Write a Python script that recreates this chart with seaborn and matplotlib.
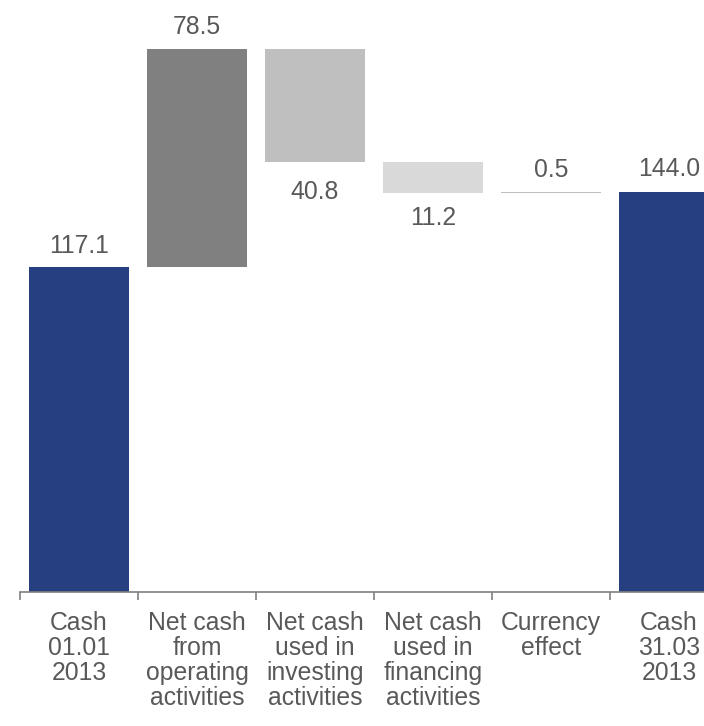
import seaborn as sns; sns.set_style("white")
import matplotlib.pyplot as plt
import pandas as pd
import numpy as np

plt.rcParams['font.family'] = ['Liberation Sans', 'DejaVu Sans']

categories = ['Cash\n01.01\n2013', 'Net cash\nfrom\noperating\nactivities',
              'Net cash\nused in\ninvesting\nactivities', 'Net cash\nused in\nfinancing\nactivities',
              'Currency\neffect', 'Cash\n31.03\n2013']
changes = [117.1, 78.5, -40.8, -11.2, 0.5, 144.0]
labels = ['117.1', '78.5', '40.8', '11.2', '0.5', '144.0']
colors = ['#263F80', '#808080', '#BFBFBF', '#D9D9D9', '#BFBFBF', '#263F80']
label_offsets = [6.5, 7, -13, -9, 7, 8]   # points

# waterfall: start / end are totals, the rest float
bottoms, heights = [], []
run = 0.0
for i, v in enumerate(changes):
    if i == 0 or i == len(changes) - 1:
        bottoms.append(0.0); heights.append(v); run = v
    else:
        lo = run if v >= 0 else run + v
        bottoms.append(lo); heights.append(abs(v)); run += v
df = pd.DataFrame({'cat': categories, 'height': heights, 'bottom': bottoms})

W, H = 704, 726
FS = 17.8
fig = plt.figure(figsize=(W / 100, H / 100), dpi=100)
ax = fig.add_axes([20 / W, 1 - 592 / H, 708 / W, 589 / H])
sns.barplot(x='cat', y='height', data=df, color=colors[0], bottom=df['bottom'].values,
            width=0.84, saturation=1, ax=ax)
for p, c in zip(ax.patches, colors):
    p.set_facecolor(c)
    p.set_edgecolor('none')
ax.set_ylim(0, 212)
ax.set_xlim(-0.5, 5.5)

txt = '#595959'
for i, v in enumerate(changes):
    top = bottoms[i] + heights[i]
    if v >= 0:
        ax.annotate(labels[i], (i, top), xytext=(0, label_offsets[i]), textcoords='offset points',
                    ha='center', va='bottom', fontsize=FS, color=txt)
    else:
        ax.annotate(labels[i], (i, bottoms[i]), xytext=(0, label_offsets[i]), textcoords='offset points',
                    ha='center', va='top', fontsize=FS, color=txt)

for s in ['top', 'right', 'left']:
    ax.spines[s].set_visible(False)
ax.spines['bottom'].set_color('#808080')
ax.spines['bottom'].set_linewidth(1.2)
ax.set_yticks([])
ax.set_xticks(np.arange(-0.5, 5.5, 1), minor=False)
ax.set_xticklabels([])
ax.tick_params(axis='x', which='major', direction='out', length=6, width=1.2,
               color='#808080', bottom=True)
ax.set_xticks(np.arange(6), minor=True)
ax.set_xticklabels(categories, minor=True, fontsize=FS, color=txt, linespacing=1.05)
ax.tick_params(axis='x', which='minor', length=0, pad=13.5)
ax.set_xlabel('')
ax.set_ylabel('')

plt.savefig('out.png', dpi=100)
